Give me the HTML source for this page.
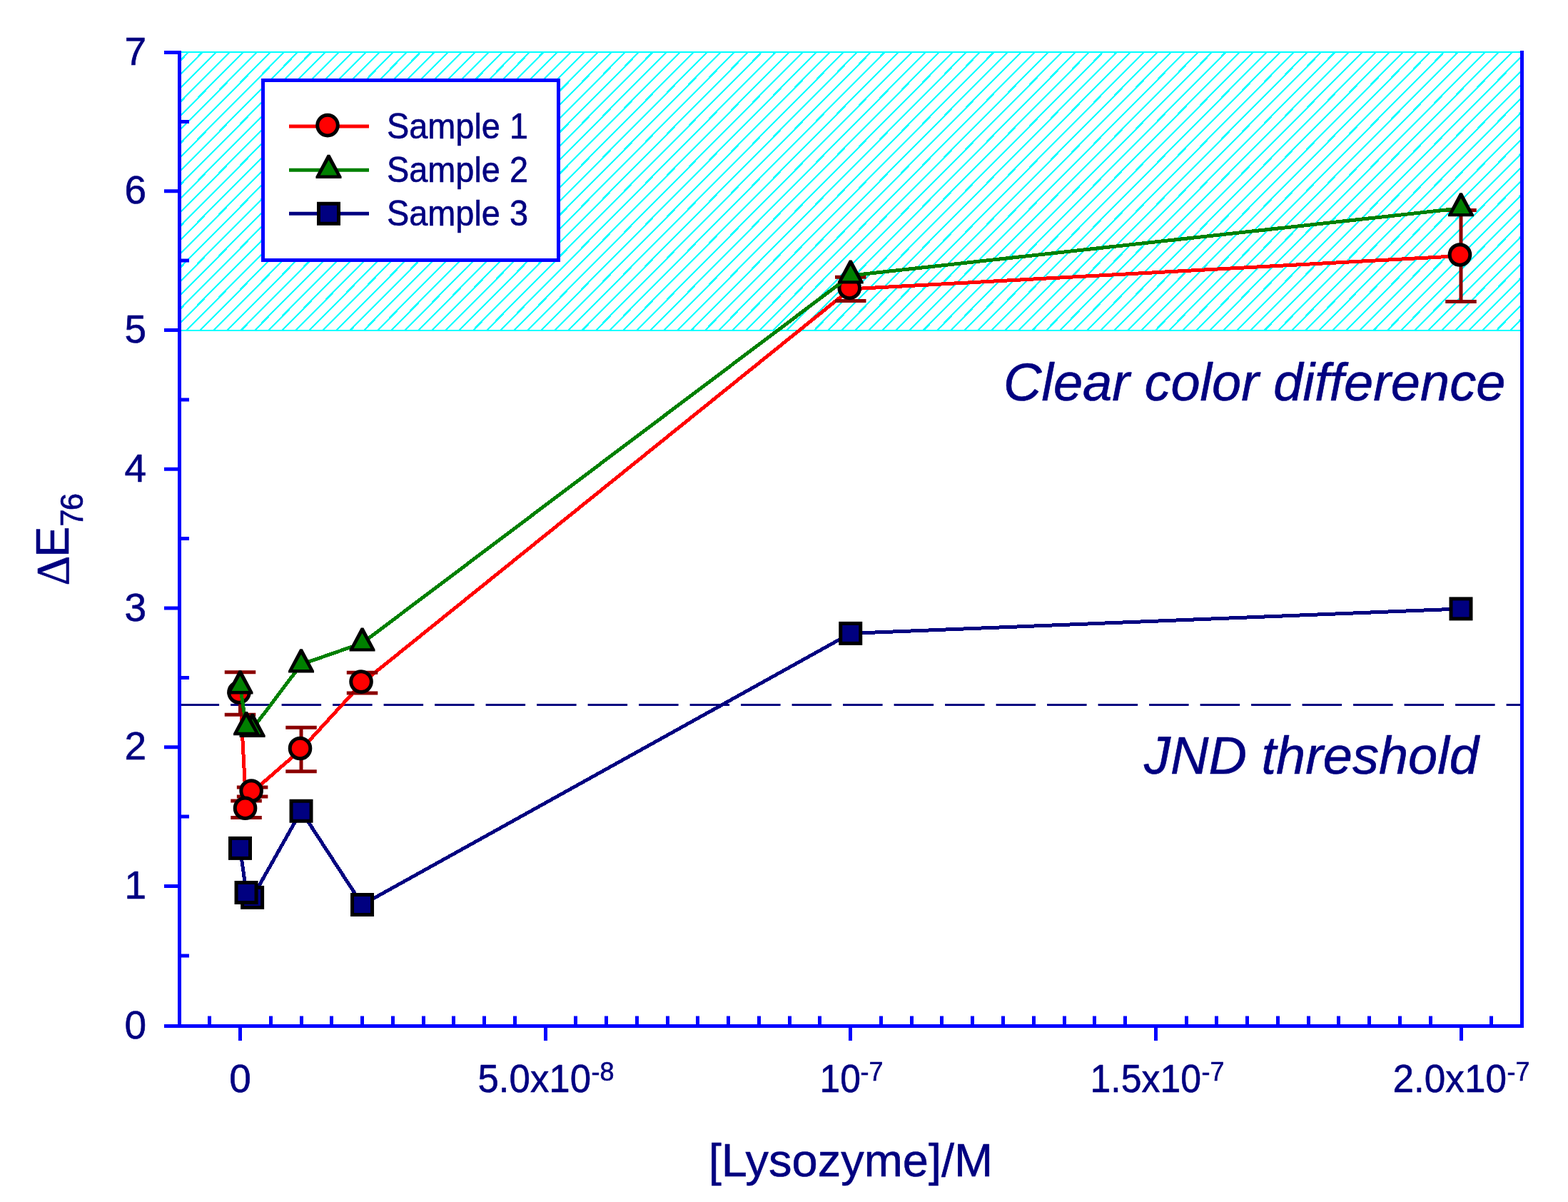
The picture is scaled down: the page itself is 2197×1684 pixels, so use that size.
<!DOCTYPE html>
<html><head><meta charset="utf-8"><title>Delta E76 vs Lysozyme</title>
<style>html,body{margin:0;padding:0;background:#fff;width:2197px;height:1684px;overflow:hidden}svg{display:block}svg text{stroke:#000080;stroke-width:0.6px;stroke-linejoin:round}</style>
</head><body>
<svg width="2197" height="1684" viewBox="0 0 2197 1684">
<rect x="0" y="0" width="2197" height="1684" fill="#FFFFFF"/>
<defs><clipPath id="hc"><rect x="251.5" y="73.0" width="1881.0" height="390.0"/></clipPath></defs>
<g clip-path="url(#hc)" stroke="#00FFFF" stroke-width="2.2" fill="none" shape-rendering="crispEdges">
<path d="M250.21 68.00L-145.39 468.00M269.33 68.00L-126.27 468.00M288.45 68.00L-107.15 468.00M307.57 68.00L-88.03 468.00M326.69 68.00L-68.91 468.00M345.81 68.00L-49.79 468.00M364.93 68.00L-30.67 468.00M384.05 68.00L-11.55 468.00M403.17 68.00L7.57 468.00M422.29 68.00L26.69 468.00M441.41 68.00L45.81 468.00M460.53 68.00L64.93 468.00M479.65 68.00L84.05 468.00M498.77 68.00L103.17 468.00M517.89 68.00L122.29 468.00M537.01 68.00L141.41 468.00M556.13 68.00L160.53 468.00M575.25 68.00L179.65 468.00M594.37 68.00L198.77 468.00M613.49 68.00L217.89 468.00M632.61 68.00L237.01 468.00M651.73 68.00L256.13 468.00M670.85 68.00L275.25 468.00M689.97 68.00L294.37 468.00M709.09 68.00L313.49 468.00M728.21 68.00L332.61 468.00M747.33 68.00L351.73 468.00M766.45 68.00L370.85 468.00M785.57 68.00L389.97 468.00M804.69 68.00L409.09 468.00M823.81 68.00L428.21 468.00M842.93 68.00L447.33 468.00M862.05 68.00L466.45 468.00M881.17 68.00L485.57 468.00M900.29 68.00L504.69 468.00M919.41 68.00L523.81 468.00M938.53 68.00L542.93 468.00M957.65 68.00L562.05 468.00M976.77 68.00L581.17 468.00M995.89 68.00L600.29 468.00M1015.01 68.00L619.41 468.00M1034.13 68.00L638.53 468.00M1053.25 68.00L657.65 468.00M1072.37 68.00L676.77 468.00M1091.49 68.00L695.89 468.00M1110.61 68.00L715.01 468.00M1129.73 68.00L734.13 468.00M1148.85 68.00L753.25 468.00M1167.97 68.00L772.37 468.00M1187.09 68.00L791.49 468.00M1206.21 68.00L810.61 468.00M1225.33 68.00L829.73 468.00M1244.45 68.00L848.85 468.00M1263.57 68.00L867.97 468.00M1282.69 68.00L887.09 468.00M1301.81 68.00L906.21 468.00M1320.93 68.00L925.33 468.00M1340.05 68.00L944.45 468.00M1359.17 68.00L963.57 468.00M1378.29 68.00L982.69 468.00M1397.41 68.00L1001.81 468.00M1416.53 68.00L1020.93 468.00M1435.65 68.00L1040.05 468.00M1454.77 68.00L1059.17 468.00M1473.89 68.00L1078.29 468.00M1493.01 68.00L1097.41 468.00M1512.13 68.00L1116.53 468.00M1531.25 68.00L1135.65 468.00M1550.37 68.00L1154.77 468.00M1569.49 68.00L1173.89 468.00M1588.61 68.00L1193.01 468.00M1607.73 68.00L1212.13 468.00M1626.85 68.00L1231.25 468.00M1645.97 68.00L1250.37 468.00M1665.09 68.00L1269.49 468.00M1684.21 68.00L1288.61 468.00M1703.33 68.00L1307.73 468.00M1722.45 68.00L1326.85 468.00M1741.57 68.00L1345.97 468.00M1760.69 68.00L1365.09 468.00M1779.81 68.00L1384.21 468.00M1798.93 68.00L1403.33 468.00M1818.05 68.00L1422.45 468.00M1837.17 68.00L1441.57 468.00M1856.29 68.00L1460.69 468.00M1875.41 68.00L1479.81 468.00M1894.53 68.00L1498.93 468.00M1913.65 68.00L1518.05 468.00M1932.77 68.00L1537.17 468.00M1951.89 68.00L1556.29 468.00M1971.01 68.00L1575.41 468.00M1990.13 68.00L1594.53 468.00M2009.25 68.00L1613.65 468.00M2028.37 68.00L1632.77 468.00M2047.49 68.00L1651.89 468.00M2066.61 68.00L1671.01 468.00M2085.73 68.00L1690.13 468.00M2104.85 68.00L1709.25 468.00M2123.97 68.00L1728.37 468.00M2143.09 68.00L1747.49 468.00M2162.21 68.00L1766.61 468.00M2181.33 68.00L1785.73 468.00M2200.45 68.00L1804.85 468.00M2219.57 68.00L1823.97 468.00M2238.69 68.00L1843.09 468.00M2257.81 68.00L1862.21 468.00M2276.93 68.00L1881.33 468.00M2296.05 68.00L1900.45 468.00M2315.17 68.00L1919.57 468.00M2334.29 68.00L1938.69 468.00M2353.41 68.00L1957.81 468.00M2372.53 68.00L1976.93 468.00M2391.65 68.00L1996.05 468.00M2410.77 68.00L2015.17 468.00M2429.89 68.00L2034.29 468.00M2449.01 68.00L2053.41 468.00M2468.13 68.00L2072.53 468.00M2487.25 68.00L2091.65 468.00M2506.37 68.00L2110.77 468.00M2525.49 68.00L2129.89 468.00"/>
</g>
<rect x="251.5" y="73" width="1881.0" height="390" fill="none" stroke="#00FFFF" stroke-width="2"/>
<line x1="254" y1="987.6" x2="2130" y2="987.6" stroke="#000080" stroke-width="3" stroke-dasharray="55.5 16" stroke-dashoffset="2.4000000000000057"/>
<g stroke="#0000FF" stroke-width="5" fill="none">
<path d="M251.5 71V1440M230 1437.5H2135M2132.5 71V1440"/>
<path d="M230 1241.50H251.5M230 1046.75H251.5M230 852.00H251.5M230 657.25H251.5M230 462.50H251.5M230 267.75H251.5M230 73.50H251.5M251.5 1338.88H265M251.5 1144.12H265M251.5 949.38H265M251.5 754.62H265M251.5 559.88H265M251.5 365.12H265M251.5 170.38H265M336.50 1437.5V1458M764.50 1437.5V1458M1191.50 1437.5V1458M1619.50 1437.5V1458M2047.50 1437.5V1458M293.50 1437.5V1423.5M379.50 1437.5V1423.5M422.50 1437.5V1423.5M464.50 1437.5V1423.5M507.50 1437.5V1423.5M550.50 1437.5V1423.5M593.50 1437.5V1423.5M635.50 1437.5V1423.5M678.50 1437.5V1423.5M721.50 1437.5V1423.5M806.50 1437.5V1423.5M849.50 1437.5V1423.5M892.50 1437.5V1423.5M935.50 1437.5V1423.5M977.50 1437.5V1423.5M1020.50 1437.5V1423.5M1063.50 1437.5V1423.5M1106.50 1437.5V1423.5M1148.50 1437.5V1423.5M1234.50 1437.5V1423.5M1277.50 1437.5V1423.5M1319.50 1437.5V1423.5M1362.50 1437.5V1423.5M1405.50 1437.5V1423.5M1448.50 1437.5V1423.5M1491.50 1437.5V1423.5M1533.50 1437.5V1423.5M1576.50 1437.5V1423.5M1662.50 1437.5V1423.5M1704.50 1437.5V1423.5M1747.50 1437.5V1423.5M1790.50 1437.5V1423.5M1833.50 1437.5V1423.5M1875.50 1437.5V1423.5M1918.50 1437.5V1423.5M1961.50 1437.5V1423.5M2004.50 1437.5V1423.5M2089.50 1437.5V1423.5"/>
</g>
<polyline points="336.50,971.50 345.05,1133.75 353.61,1109.50 422.02,1050.00 507.55,956.60 1191.75,404.90 2047.00,358.50" fill="none" stroke="#FF0000" stroke-width="5" stroke-linejoin="round" shape-rendering="crispEdges"/>
<path d="M336.50 941.75V1001.25M314.75 941.75H358.25M314.75 1001.25H358.25M345.05 1122.00V1145.50M323.30 1122.00H366.80M323.30 1145.50H366.80M353.61 1103.00V1116.00M331.86 1103.00H375.36M331.86 1116.00H375.36M422.02 1019.25V1080.75M400.27 1019.25H443.77M400.27 1080.75H443.77M507.55 942.20V971.00M485.80 942.20H529.30M485.80 971.00H529.30M1191.75 388.30V421.50M1170.00 388.30H1213.50M1170.00 421.50H1213.50M2047.00 294.50V422.50M2025.25 294.50H2068.75M2025.25 422.50H2068.75" stroke="#8B0000" stroke-width="5" fill="none"/>
<circle cx="2045.50" cy="357.00" r="14.3" fill="#FF0000" stroke="#000" stroke-width="5"/>
<circle cx="1190.25" cy="403.40" r="14.3" fill="#FF0000" stroke="#000" stroke-width="5"/>
<circle cx="506.05" cy="955.10" r="14.3" fill="#FF0000" stroke="#000" stroke-width="5"/>
<circle cx="420.52" cy="1048.50" r="14.3" fill="#FF0000" stroke="#000" stroke-width="5"/>
<circle cx="352.11" cy="1108.00" r="14.3" fill="#FF0000" stroke="#000" stroke-width="5"/>
<circle cx="343.55" cy="1132.25" r="14.3" fill="#FF0000" stroke="#000" stroke-width="5"/>
<circle cx="335.00" cy="970.00" r="14.3" fill="#FF0000" stroke="#000" stroke-width="5"/>
<polyline points="336.50,960.90 345.05,1018.60 353.61,1021.40 422.02,930.80 507.55,901.00 1191.75,386.00 2047.00,291.75" fill="none" stroke="#008000" stroke-width="5" stroke-linejoin="round" shape-rendering="crispEdges"/>
<path d="M2045.20 270.15L2048.80 270.15L2065.00 300.65L2065.00 303.35L2029.00 303.35L2029.00 300.65Z" fill="#000"/><path d="M2047.00 277.75L2058.80 298.95L2035.20 298.95Z" fill="#008000"/>
<path d="M1189.95 364.40L1193.55 364.40L1209.75 394.90L1209.75 397.60L1173.75 397.60L1173.75 394.90Z" fill="#000"/><path d="M1191.75 372.00L1203.55 393.20L1179.95 393.20Z" fill="#008000"/>
<path d="M505.75 879.40L509.35 879.40L525.55 909.90L525.55 912.60L489.55 912.60L489.55 909.90Z" fill="#000"/><path d="M507.55 887.00L519.35 908.20L495.75 908.20Z" fill="#008000"/>
<path d="M420.22 909.20L423.82 909.20L440.02 939.70L440.02 942.40L404.02 942.40L404.02 939.70Z" fill="#000"/><path d="M422.02 916.80L433.82 938.00L410.22 938.00Z" fill="#008000"/>
<path d="M351.81 999.80L355.41 999.80L371.61 1030.30L371.61 1033.00L335.61 1033.00L335.61 1030.30Z" fill="#000"/><path d="M353.61 1007.40L365.41 1028.60L341.81 1028.60Z" fill="#008000"/>
<path d="M343.25 997.00L346.85 997.00L363.05 1027.50L363.05 1030.20L327.05 1030.20L327.05 1027.50Z" fill="#000"/><path d="M345.05 1004.60L356.85 1025.80L333.25 1025.80Z" fill="#008000"/>
<path d="M334.70 939.30L338.30 939.30L354.50 969.80L354.50 972.50L318.50 972.50L318.50 969.80Z" fill="#000"/><path d="M336.50 946.90L348.30 968.10L324.70 968.10Z" fill="#008000"/>
<polyline points="336.50,1188.40 345.05,1250.50 353.61,1257.40 422.02,1136.25 507.55,1267.50 1191.75,887.40 2047.00,852.90" fill="none" stroke="#000080" stroke-width="5" stroke-linejoin="round" shape-rendering="crispEdges"/>
<rect x="2033.00" y="838.90" width="28" height="28" fill="#000080" stroke="#000" stroke-width="5"/>
<rect x="1177.75" y="873.40" width="28" height="28" fill="#000080" stroke="#000" stroke-width="5"/>
<rect x="493.55" y="1253.50" width="28" height="28" fill="#000080" stroke="#000" stroke-width="5"/>
<rect x="408.02" y="1122.25" width="28" height="28" fill="#000080" stroke="#000" stroke-width="5"/>
<rect x="339.61" y="1243.40" width="28" height="28" fill="#000080" stroke="#000" stroke-width="5"/>
<rect x="331.05" y="1236.50" width="28" height="28" fill="#000080" stroke="#000" stroke-width="5"/>
<rect x="322.50" y="1174.40" width="28" height="28" fill="#000080" stroke="#000" stroke-width="5"/>
<rect x="368.5" y="112.5" width="414" height="252" fill="#FFFFFF" stroke="#0000FF" stroke-width="5"/>
<line x1="405" y1="177.1" x2="517" y2="177.1" stroke="#FF0000" stroke-width="5"/>
<line x1="405" y1="238.3" x2="517" y2="238.3" stroke="#008000" stroke-width="5"/>
<line x1="405" y1="299.3" x2="517" y2="299.3" stroke="#000080" stroke-width="5"/>
<circle cx="459.00" cy="175.60" r="14.3" fill="#FF0000" stroke="#000" stroke-width="5"/>
<path d="M458.70 216.70L462.30 216.70L478.50 247.20L478.50 249.90L442.50 249.90L442.50 247.20Z" fill="#000"/><path d="M460.50 224.30L472.30 245.50L448.70 245.50Z" fill="#008000"/>
<rect x="446.50" y="285.30" width="28" height="28" fill="#000080" stroke="#000" stroke-width="5"/>
<text x="542" y="194.1" font-family="'Liberation Sans', Arial, sans-serif" font-size="50" fill="#000080" textLength="198" lengthAdjust="spacingAndGlyphs">Sample 1</text>
<text x="542" y="255.0" font-family="'Liberation Sans', Arial, sans-serif" font-size="50" fill="#000080" textLength="198" lengthAdjust="spacingAndGlyphs">Sample 2</text>
<text x="542" y="315.8" font-family="'Liberation Sans', Arial, sans-serif" font-size="50" fill="#000080" textLength="198" lengthAdjust="spacingAndGlyphs">Sample 3</text>
<text x="205" y="1455.10" font-family="'Liberation Sans', Arial, sans-serif" font-size="55" fill="#000080" text-anchor="end">0</text>
<text x="205" y="1259.10" font-family="'Liberation Sans', Arial, sans-serif" font-size="55" fill="#000080" text-anchor="end">1</text>
<text x="205" y="1064.35" font-family="'Liberation Sans', Arial, sans-serif" font-size="55" fill="#000080" text-anchor="end">2</text>
<text x="205" y="869.60" font-family="'Liberation Sans', Arial, sans-serif" font-size="55" fill="#000080" text-anchor="end">3</text>
<text x="205" y="674.85" font-family="'Liberation Sans', Arial, sans-serif" font-size="55" fill="#000080" text-anchor="end">4</text>
<text x="205" y="480.10" font-family="'Liberation Sans', Arial, sans-serif" font-size="55" fill="#000080" text-anchor="end">5</text>
<text x="205" y="285.35" font-family="'Liberation Sans', Arial, sans-serif" font-size="55" fill="#000080" text-anchor="end">6</text>
<text x="205" y="91.10" font-family="'Liberation Sans', Arial, sans-serif" font-size="55" fill="#000080" text-anchor="end">7</text>
<text x="336.50" y="1530" font-family="'Liberation Sans', Arial, sans-serif" font-size="55" fill="#000080" text-anchor="middle">0</text>
<text y="1530" font-family="'Liberation Sans', Arial, sans-serif" font-size="55" fill="#000080"><tspan x="669.5" textLength="158.5" lengthAdjust="spacingAndGlyphs">5.0x10</tspan><tspan x="828.5" y="1513.8" font-size="36">-8</tspan></text>
<text y="1530" font-family="'Liberation Sans', Arial, sans-serif" font-size="55" fill="#000080"><tspan x="1148.5" textLength="57.5" lengthAdjust="spacingAndGlyphs">10</tspan><tspan x="1205.5" y="1513.8" font-size="36">-7</tspan></text>
<text y="1530" font-family="'Liberation Sans', Arial, sans-serif" font-size="55" fill="#000080"><tspan x="1527.5" textLength="155.5" lengthAdjust="spacingAndGlyphs">1.5x10</tspan><tspan x="1683.5" y="1513.8" font-size="36">-7</tspan></text>
<text y="1530" font-family="'Liberation Sans', Arial, sans-serif" font-size="55" fill="#000080"><tspan x="1951.5" textLength="159.5" lengthAdjust="spacingAndGlyphs">2.0x10</tspan><tspan x="2111.5" y="1513.8" font-size="36">-7</tspan></text>
<text x="1192" y="1648" font-family="'Liberation Sans', Arial, sans-serif" font-size="65" fill="#000080" text-anchor="middle">[Lysozyme]/M</text>
<text transform="translate(96,820) rotate(-90)" font-family="'Liberation Sans', Arial, sans-serif" font-size="65" fill="#000080"><tspan x="-0.6" y="0" font-family="'Liberation Serif', serif">Δ</tspan><tspan x="39.3" y="0">E</tspan><tspan x="82.3" y="20" font-size="44">7</tspan><tspan x="104.7" y="20" font-size="44">6</tspan></text>
<text x="1406" y="561" font-family="'Liberation Sans', Arial, sans-serif" font-style="italic" font-size="74" fill="#000080">Clear color difference</text>
<text x="1603" y="1084" font-family="'Liberation Sans', Arial, sans-serif" font-style="italic" font-size="74" fill="#000080">JND threshold</text>
</svg>
</body></html>
